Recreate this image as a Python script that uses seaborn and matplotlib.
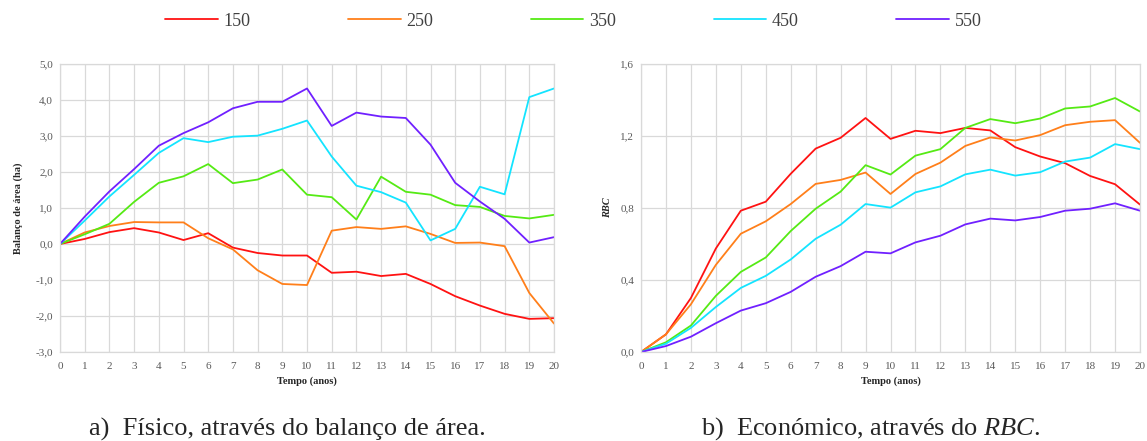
import numpy as np
import pandas as pd
import matplotlib
matplotlib.use("Agg")
import matplotlib.pyplot as plt
from matplotlib.ticker import FuncFormatter, MultipleLocator
import seaborn as sns

anos = list(range(0, 21))
series = ["150", "250", "350", "450", "550"]
cores = ["#ff1212", "#ff7f1a", "#55ea14", "#14e4ff", "#7020ff"]

# balanço de área (ha)
area_150 = [0, 0.14, 0.33, 0.44, 0.32, 0.11, 0.30, -0.10, -0.25, -0.32, -0.32,
            -0.80, -0.77, -0.89, -0.83, -1.11, -1.45, -1.71, -1.94, -2.08, -2.06]
area_250 = [0, 0.32, 0.50, 0.61, 0.60, 0.60, 0.16, -0.15, -0.73, -1.11, -1.14,
            0.37, 0.47, 0.42, 0.49, 0.28, 0.03, 0.04, -0.06, -1.36, -2.21]
area_350 = [0, 0.27, 0.56, 1.17, 1.70, 1.88, 2.22, 1.69, 1.79, 2.07, 1.37,
            1.30, 0.68, 1.87, 1.45, 1.37, 1.08, 1.03, 0.78, 0.71, 0.81]
area_450 = [0, 0.65, 1.32, 1.92, 2.53, 2.94, 2.83, 2.98, 3.01, 3.20, 3.43,
            2.43, 1.62, 1.44, 1.15, 0.10, 0.42, 1.59, 1.38, 4.08, 4.32]
area_550 = [0, 0.76, 1.46, 2.08, 2.73, 3.08, 3.38, 3.77, 3.95, 3.95, 4.32,
            3.28, 3.65, 3.54, 3.50, 2.76, 1.70, 1.18, 0.70, 0.04, 0.19]

# RBC
rbc_150 = [0, 0.098, 0.30, 0.575, 0.785, 0.835, 0.99, 1.13, 1.19, 1.30, 1.184,
           1.229, 1.216, 1.245, 1.231, 1.138, 1.086, 1.049, 0.978, 0.932, 0.819]
rbc_250 = [0, 0.098, 0.265, 0.484, 0.657, 0.726, 0.822, 0.934, 0.956, 0.997, 0.878,
           0.989, 1.052, 1.145, 1.192, 1.175, 1.205, 1.26, 1.279, 1.288, 1.162]
rbc_350 = [0, 0.054, 0.147, 0.312, 0.445, 0.525, 0.672, 0.796, 0.891, 1.038, 0.986,
           1.091, 1.127, 1.245, 1.294, 1.271, 1.297, 1.353, 1.364, 1.411, 1.336]
rbc_450 = [0, 0.046, 0.134, 0.25, 0.356, 0.423, 0.514, 0.629, 0.707, 0.822, 0.802,
           0.887, 0.92, 0.987, 1.013, 0.98, 0.999, 1.058, 1.08, 1.155, 1.127]
rbc_550 = [0, 0.033, 0.085, 0.16, 0.23, 0.271, 0.334, 0.418, 0.477, 0.557, 0.548,
           0.609, 0.646, 0.709, 0.741, 0.731, 0.75, 0.785, 0.796, 0.826, 0.785]

area_vals = [area_150, area_250, area_350, area_450, area_550]
rbc_vals = [rbc_150, rbc_250, rbc_350, rbc_450, rbc_550]

rows = []
for s, a, r in zip(series, area_vals, rbc_vals):
    for t, va, vr in zip(anos, a, r):
        rows.append({"Tempo": t, "Serie": s, "Area": va, "RBC": vr})
df = pd.DataFrame(rows)

sns.set_style("whitegrid")
plt.rcParams["font.family"] = ["Liberation Serif", "DejaVu Serif"]
plt.rcParams["mathtext.fontset"] = "custom"
plt.rcParams["mathtext.rm"] = "Liberation Serif"
plt.rcParams["mathtext.it"] = "Liberation Serif:italic"

fig = plt.figure(figsize=(11.47, 4.41), dpi=100)
ax1 = fig.add_axes([60 / 1147, 1 - 352 / 441, 494 / 1147, 288 / 441])
ax2 = fig.add_axes([641 / 1147, 1 - 352 / 441, 499 / 1147, 288 / 441])

pal = dict(zip(series, cores))
sns.lineplot(data=df, x="Tempo", y="Area", hue="Serie", palette=pal, ax=ax1,
             linewidth=1.3, legend=False)
sns.lineplot(data=df, x="Tempo", y="RBC", hue="Serie", palette=pal, ax=ax2,
             linewidth=1.3, legend=False)

virgula = FuncFormatter(lambda v, p: f"{v:.1f}".replace(".", ","))

ax1.set_ylim(-3, 5)
ax1.yaxis.set_major_locator(MultipleLocator(1))
ax2.set_ylim(0, 1.6)
ax2.yaxis.set_major_locator(MultipleLocator(0.4))

for ax in (ax1, ax2):
    ax.set_xlim(0, 20)
    ax.xaxis.set_major_locator(MultipleLocator(1))
    ax.yaxis.set_major_formatter(virgula)
    ax.grid(True, color="#d9d9d9", linewidth=0.9)
    for sp in ax.spines.values():
        sp.set_color("#d9d9d9")
        sp.set_linewidth(0.9)
    ax.tick_params(axis="both", length=0, labelsize=8, labelcolor="#595959", pad=5)
    ax.tick_params(axis="x", pad=7)
    ax.set_xlabel("Tempo (anos)", fontsize=7.5, fontweight="bold", labelpad=4)

ax1.set_ylabel("Balanço de área (ha)", fontsize=7.5, fontweight="bold", labelpad=9)
ax2.set_ylabel("RBC", fontsize=7.5, fontweight="bold", style="italic", labelpad=6)

handles = [plt.Line2D([], [], color=c, linewidth=1.3) for c in cores]
fig.legend(handles, series, loc="center", bbox_to_anchor=(0.5, 1 - 21 / 441),
           ncol=5, frameon=False, fontsize=13, handlelength=2.9,
           handletextpad=0.33, columnspacing=5.4, labelcolor="#404040")

fig.text(287 / 1147, 1 - 429 / 441, "a)  Físico, através do balanço de área.",
         ha="center", va="center", fontsize=19)
fig.text(871 / 1147, 1 - 429 / 441, "b)  Económico, através do $\\mathit{RBC}$.",
         ha="center", va="center", fontsize=19)

fig.savefig("out.png", dpi=100)
